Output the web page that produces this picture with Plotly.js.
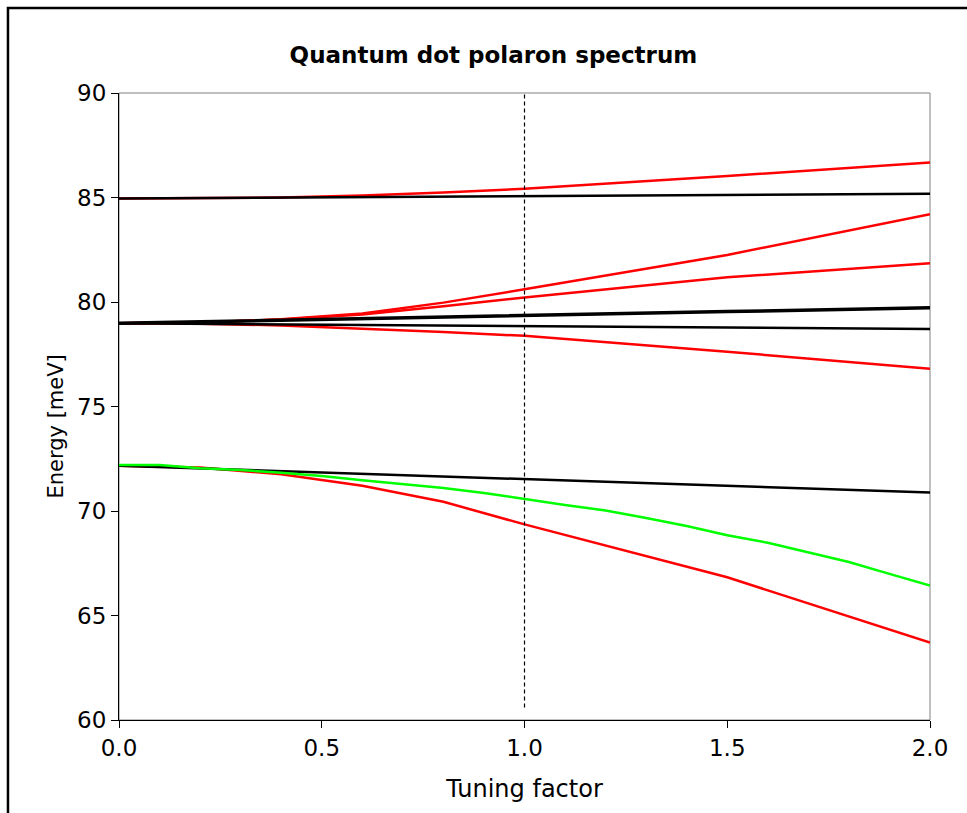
<!DOCTYPE html>
<html><head><meta charset="utf-8">
<script src="https://cdn.plot.ly/plotly-3.0.1.min.js"></script>
<style>html,body{margin:0;padding:0;background:#fff}#chart{width:967px;height:813px}</style>
</head><body><div id="chart"></div>
<script>
// Tuning factor sample points
const xCoarse = [0, 0.2, 0.4, 0.6, 0.8, 1.0, 1.5, 2.0];
// Upper manifold (~85 meV)
const redTop      = [84.95, 84.96, 85.00, 85.10, 85.24, 85.42, 86.03, 86.68];
const blackTop    = [84.95, 84.97, 85.00, 85.02, 85.04, 85.06, 85.12, 85.18];
// Middle manifold (~79 meV)
const redMidUpper = [78.98, 79.02, 79.17, 79.45, 79.97, 80.61, 82.25, 84.20];
const redMidLower = [78.98, 79.02, 79.16, 79.40, 79.80, 80.22, 81.18, 81.85];
const blackMidThick = [78.98, 79.06, 79.13, 79.21, 79.28, 79.36, 79.54, 79.73];
const blackMidThin  = [78.98, 78.95, 78.93, 78.90, 78.87, 78.85, 78.78, 78.71];
const redMidBottom  = [78.98, 78.96, 78.88, 78.74, 78.57, 78.38, 77.62, 76.81];
// Lower manifold (~72 meV)
const blackLow = [72.17, 72.04, 71.91, 71.78, 71.65, 71.53, 71.20, 70.88];
const redLow   = [72.17, 72.08, 71.76, 71.21, 70.44, 69.36, 66.83, 63.70];
const xFine = [0, 0.1, 0.2, 0.3, 0.4, 0.5, 0.6, 0.7, 0.8, 0.9, 1.0, 1.1, 1.2, 1.3, 1.4, 1.5, 1.6, 1.7, 1.8, 1.9, 2.0];
const greenLow = [72.20, 72.20, 72.04, 71.96, 71.83, 71.67, 71.47, 71.28, 71.10, 70.86, 70.56, 70.29, 70.02, 69.67, 69.28, 68.84, 68.48, 68.02, 67.56, 66.99, 66.43];
// Marker of tuning factor 1
const markX = [1, 1];
const markY = [60.6, 90];

const xTicks = [0, 0.5, 1, 1.5, 2];
const xTickText = ['0.0', '0.5', '1.0', '1.5', '2.0'];
const yTicks = [60, 65, 70, 75, 80, 85, 90];
const yTitle = 'Energy [meV]';

const RED = '#ff0000', BLACK = '#000000', GREEN = '#00ff00';
function ln(x, y, color, width, dash) {
  return {x: x, y: y, type: 'scatter', mode: 'lines', hoverinfo: 'skip',
          line: {color: color, width: width, dash: dash || 'solid'}, showlegend: false};
}
const traces = [
  ln(xCoarse, redTop, RED, 2.5),
  ln(xCoarse, redMidUpper, RED, 2.5),
  ln(xCoarse, redMidLower, RED, 2.5),
  ln(xCoarse, redMidBottom, RED, 2.5),
  ln(xCoarse, redLow, RED, 2.5),
  ln(xCoarse, blackTop, BLACK, 2.5),
  ln(xCoarse, blackMidThick, BLACK, 3.5),
  ln(xCoarse, blackMidThin, BLACK, 2.5),
  ln(xCoarse, blackLow, BLACK, 2.5),
  ln(xFine, greenLow, GREEN, 2.5),
  ln(markX, markY, BLACK, 1.2, '4px,3px')
];

const FONT = 'DejaVu Sans, Verdana, sans-serif';
const layout = {
  width: 967, height: 813,
  margin: {l: 119, r: 37, t: 93, b: 93},
  paper_bgcolor: '#ffffff', plot_bgcolor: '#ffffff',
  showlegend: false,
  title: {text: '<b>Quantum dot polaron spectrum</b>', font: {family: FONT, size: 23, color: '#000'},
          x: 0.5103, xref: 'container', xanchor: 'center', y: 0.932, yref: 'container', yanchor: 'middle'},
  xaxis: {range: [0, 2], tickvals: xTicks, ticktext: xTickText, ticks: 'outside', ticklen: 7,
          tickcolor: '#000', tickwidth: 1, showline: true, linecolor: '#000', linewidth: 1,
          showgrid: false, zeroline: false, tickfont: {family: FONT, size: 23, color: '#000'},
          title: {text: 'Tuning factor', font: {family: FONT, size: 24, color: '#000'}, standoff: 20}},
  yaxis: {range: [60, 90], tickvals: yTicks, ticks: 'outside', ticklen: 7,
          tickcolor: '#000', tickwidth: 1, showline: true, linecolor: '#000', linewidth: 1,
          showgrid: false, zeroline: false, tickfont: {family: FONT, size: 23, color: '#000'}},
  annotations: [
    {text: yTitle, textangle: -90, xref: 'paper', yref: 'paper', x: -0.0777, y: 0.468,
     xanchor: 'center', yanchor: 'middle', showarrow: false,
     font: {family: FONT, size: 21, color: '#000'}}
  ],
  shapes: [
    {type: 'rect', xref: 'paper', yref: 'paper', x0: 0, x1: 1, y0: 0, y1: 1,
     line: {color: '#808080', width: 1}, layer: 'below'},
    {type: 'rect', xref: 'paper', yref: 'paper', x0: -0.1369, x1: 1.06, y0: -0.2, y1: 1.1356,
     line: {color: '#000', width: 2.5}, layer: 'below'}
  ]
};
Plotly.newPlot('chart', traces, layout, {displayModeBar: false, staticPlot: true});
</script>
</body></html>
